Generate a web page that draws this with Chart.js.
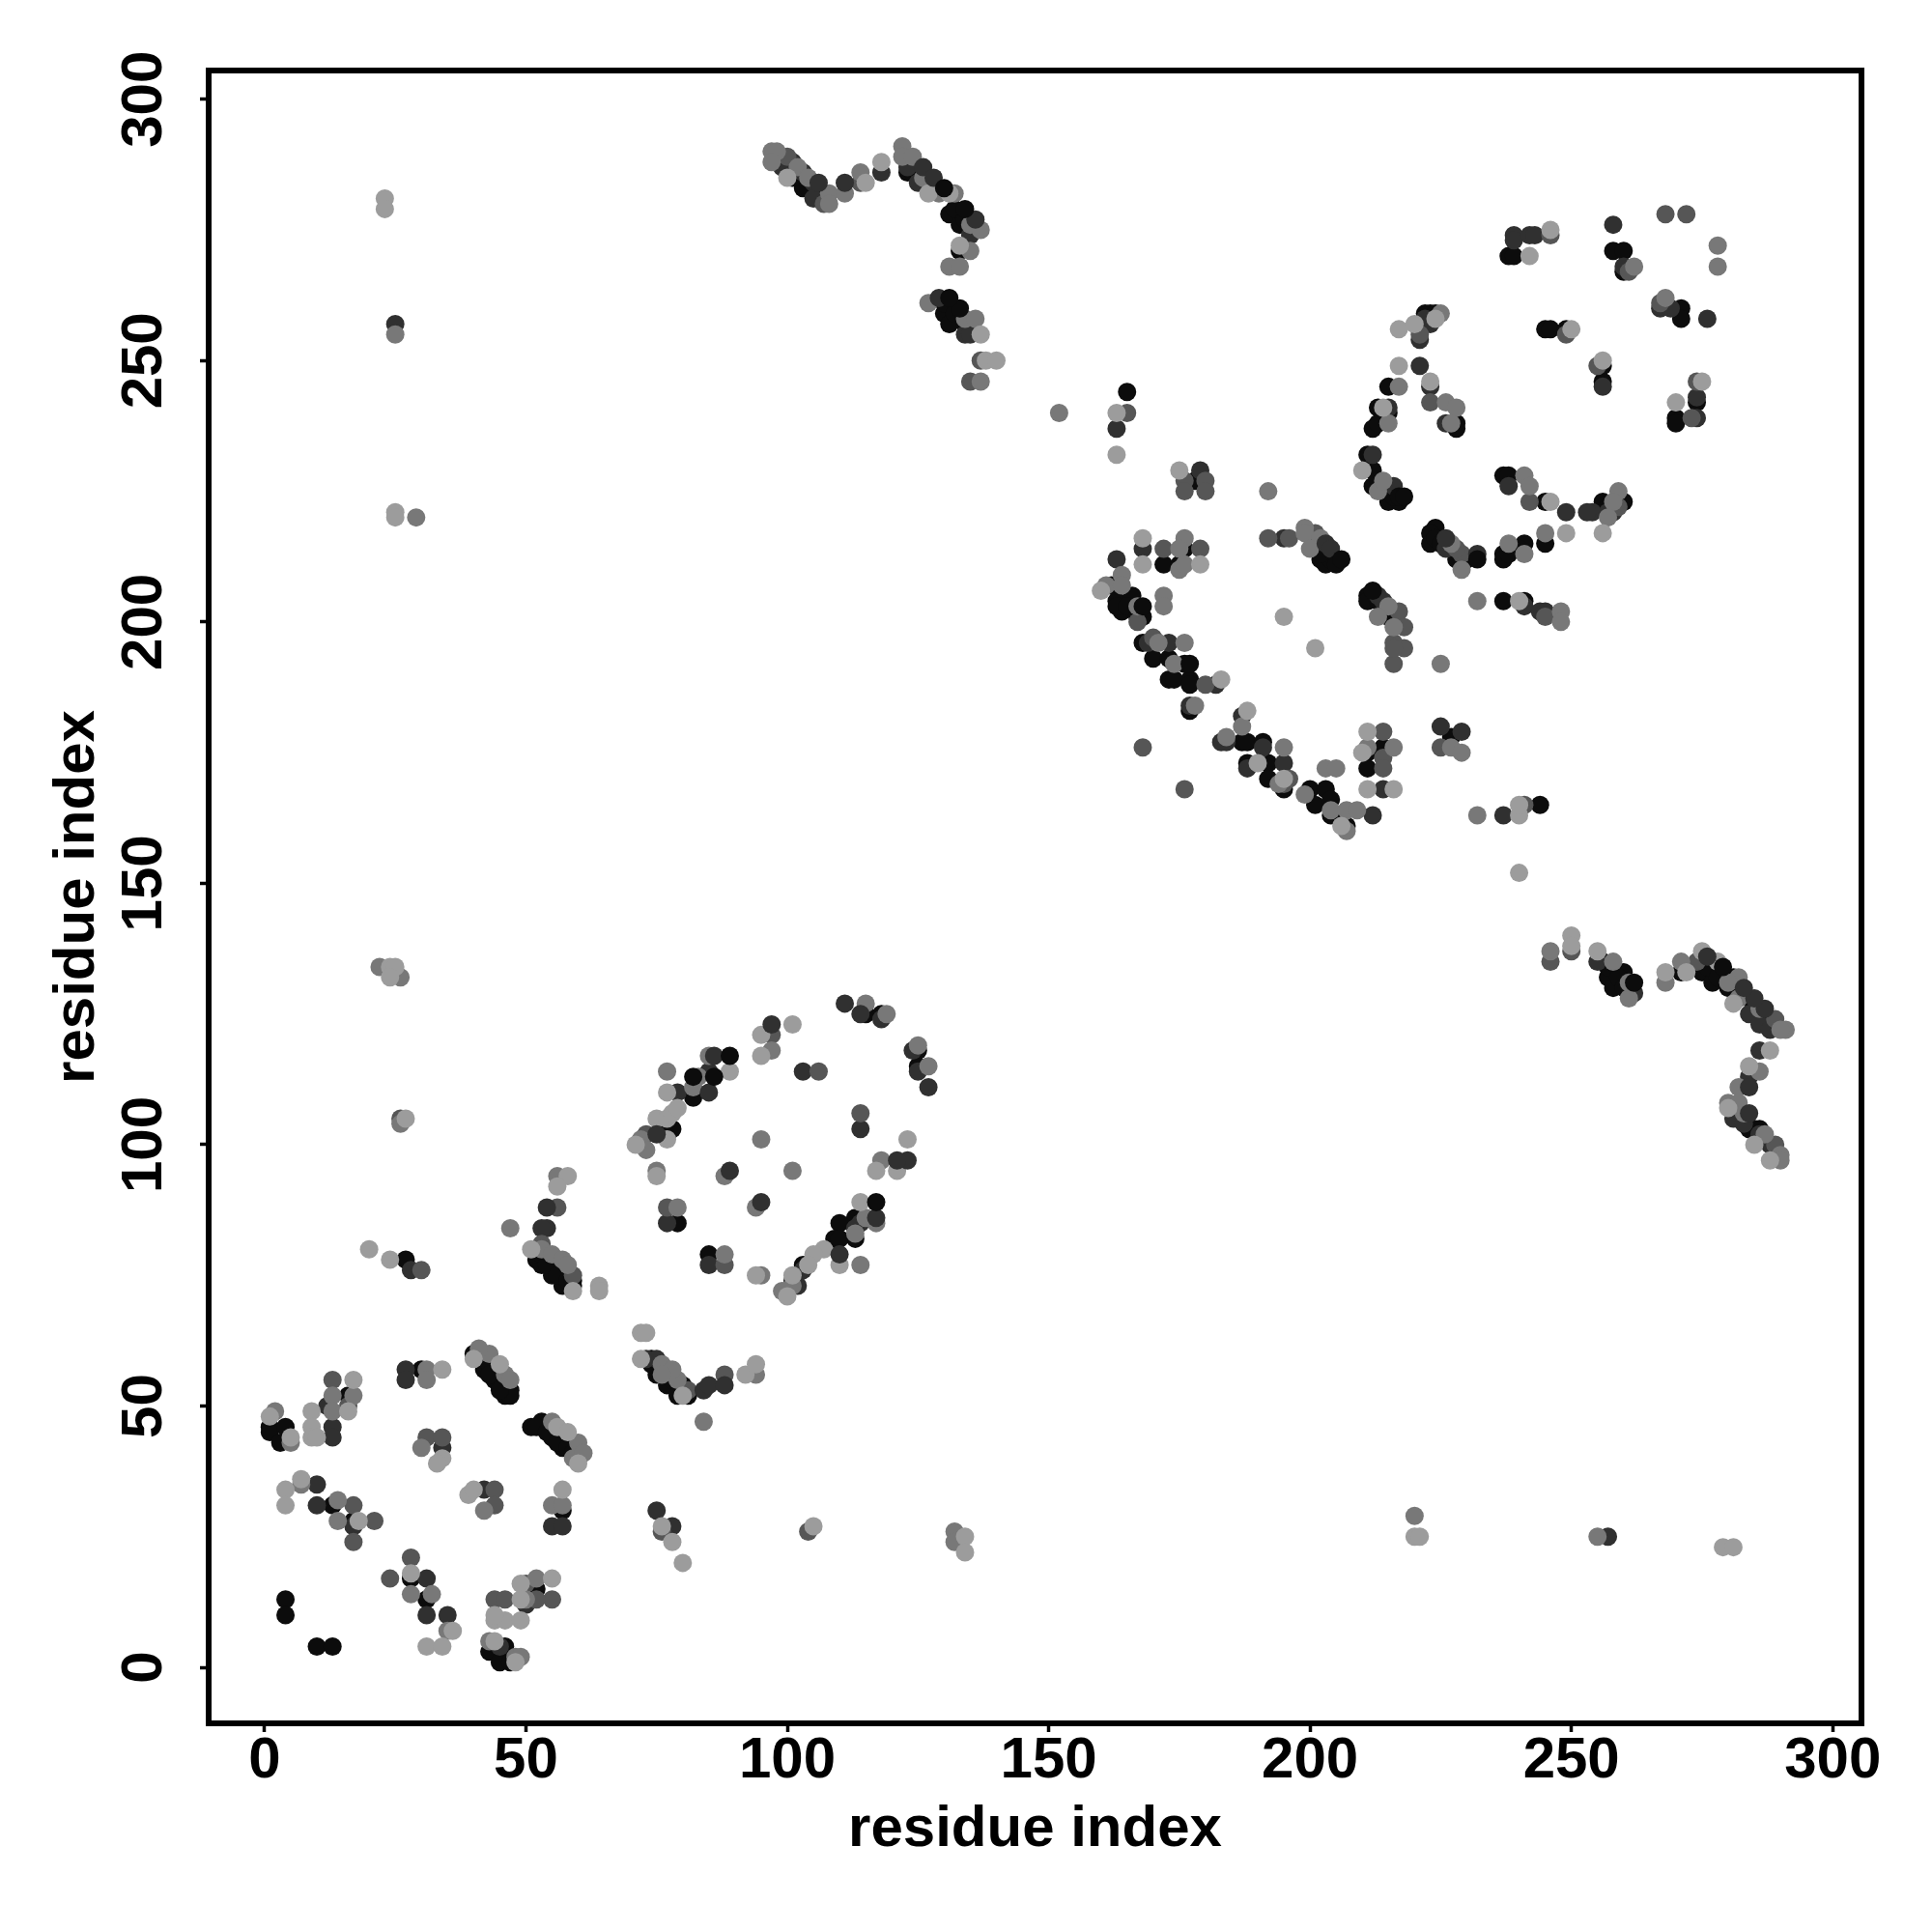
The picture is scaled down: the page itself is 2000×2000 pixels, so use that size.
<!DOCTYPE html>
<html><head><meta charset="utf-8">
<style>html,body{margin:0;padding:0;background:#fff}canvas{display:block}</style>
<script src="https://cdn.jsdelivr.net/npm/chart.js@4"></script>
</head><body><canvas id="c" width="2000" height="2000"></canvas>
<script>
const tickValues = [0,50,100,150,200,250,300];
const axisTitle = "residue index";
const lightPoints = [[31,4],[34,4],[36,7],[28,18],[4,34],[4,31],[7,36],[18,28],[1,48],[9,49],[9,46],[9,44],[10,44],[5,44],[17,55],[16,49],[34,57],[34,40],[33,39],[39,33],[40,34],[57,34],[40,59],[45,58],[56,46],[58,45],[60,39],[55,17],[49,16],[44,9],[46,9],[49,9],[44,10],[44,5],[49,13],[48,1],
[58,94],[56,92],[51,80],[59,72],[64,73],[64,72],[71,100],[77,101],[75,105],[77,105],[78,106],[79,107],[77,110],[89,114],[95,121],[101,123],[95,117],[123,101],[117,95],[121,95],[75,94],[94,75],[114,89],[107,80],[105,79],[104,77],[110,77],[101,75],[100,71],[72,64],[73,64],[72,59],[80,52],[92,56],[94,58],
[23,281],[23,279],[25,221],[25,220],[24,134],[25,134],[24,132],[27,105],[20,80],[24,78],[76,27],[78,24],[80,20],[105,27],[134,25],[134,22],[220,25],[221,25],[279,23],[281,23],
[175,229],[210,229],[168,216],[168,211],[179,211],[160,206],[188,183],[195,201],[201,195],[190,173],[195,170],[206,161],[211,179],[210,175],[211,168],[216,168],[240,163],[240,165],[240,152],[240,204],[246,223],[249,217],[183,189],
[242,270],[246,275],[270,242],[275,246],[256,250],[250,256],[217,256],[220,257],[224,258],[217,249],[223,246],[214,241],[256,217],
[100,285],[115,284],[118,288],[127,282],[131,282],[133,272],[137,255],[138,250],[140,250],[163,240],[163,232],
[250,140],[250,138],[255,137],[268,133],[272,133],[275,137],[278,135],[281,127],[288,118],[284,115],[280,107],[285,100],[288,97]];
const midPoints = [[32,14],[28,14],[35,7],[30,42],[55,31],[57,31],[42,30],[14,32],[14,28],[7,35],[2,49],[13,52],[13,49],[17,52],[31,57],[31,55],[5,43],[43,60],[41,61],[46,56],[47,55],[55,47],[60,43],[59,40],[61,41],[52,17],[50,13],[43,5],[48,2],[49,2],
[47,84],[56,94],[53,80],[55,79],[57,78],[58,77],[72,101],[73,99],[75,95],[77,114],[83,113],[85,117],[82,111],[97,118],[115,127],[119,125],[125,119],[127,115],[118,97],[79,88],[95,101],[101,95],[94,88],[88,94],[88,79],[95,75],[117,85],[115,86],[113,83],[114,77],[99,72],[101,73],[76,58],[79,55],[78,57],[94,56],[76,56],[84,47],[22,134],[26,132],[26,104],[25,255],[132,26],[132,24],[220,29],[255,25],[29,220],
[192,225],[199,218],[199,217],[202,216],[200,214],[227,215],[229,210],[213,225],[214,227],[164,209],[161,207],[164,207],[167,203],[172,205],[172,203],[171,196],[176,196],[174,192],[178,184],[184,178],[187,180],[195,176],[194,169],[199,167],[204,164],[207,164],[209,164],[207,160],[203,172],[205,172],[211,176],[216,176],[227,176],[229,175],[232,163],[225,192],[232,204],[248,202],[248,200],[215,203],[213,201],[216,199],[175,210],[176,216],[175,214],[176,211],[238,215],[241,228],[242,226],[245,217],[241,213],
[278,272],[278,268],[262,268],[268,262],[225,259],[217,245],[226,242],[228,241],[227,238],[215,238],[259,225],[258,223],[257,220],
[97,290],[98,290],[97,288],[102,287],[104,285],[108,282],[108,280],[111,282],[114,286],[122,291],[122,289],[124,289],[126,285],[129,282],[132,282],[135,276],[137,275],[135,271],[131,268],[133,268],[127,261],[134,258],[136,258],[137,246],[152,240],
[246,137],[258,135],[261,128],[261,131],[268,131],[271,135],[282,132],[280,131],[282,128],[286,126],[291,122],[290,122],[286,114],[282,111],[280,108],[282,108],[283,106],[287,102],[290,98],[290,97]];
const darkMidPoints = [[28,21],[24,17],[17,24],[21,28],[17,31],[13,55],[16,50],[31,44],[34,44],[44,34],[44,31],[44,13],[46,13],[55,13],[52,13],[50,16],[53,81],[56,88],[97,121],[114,106],[106,114],[77,88],[88,77],[73,102],[81,53],[88,56],[59,75],[26,105],[30,76],[104,26],[76,26],
[192,216],[196,216],[201,217],[180,227],[176,227],[176,225],[180,225],[172,214],[179,214],[229,213],[228,214],[167,200],[170,197],[180,188],[168,176],[176,168],[196,170],[195,169],[214,179],[214,174],[214,172],[225,176],[241,165],[245,201],[217,202],[218,199],[216,196],[218,195],[216,192],[216,195],
[268,278],[272,278],[261,267],[267,261],[246,274],[274,246],[273,239],[255,249],[249,255],[221,255],[223,242],[259,222],[242,223],[100,289],[107,280],[114,284],[137,250],[135,246],[165,240],[246,135],[250,137],[274,135],[289,124],[289,100]];
const darkPoints = [[35,10],[31,10],[31,17],[10,35],[10,31],[17,27],[13,46],[13,44],[12,50],[27,57],[27,55],[34,42],[42,34],[55,27],[57,27],[50,12],[45,4],
[54,84],[53,84],[79,110],[85,114],[103,114],[111,127],[118,124],[124,118],[125,114],[127,111],[114,103],[77,85],[85,77],[114,85],[113,84],[103,76],[101,74],[102,73],[73,59],[75,59],[75,30],[78,27],[25,257],[28,76],
[179,229],[195,216],[226,214],[238,226],[249,221],[216,226],[168,214],[163,212],[169,196],[173,196],[182,188],[177,184],[183,177],[184,177],[187,182],[191,176],[188,172],[195,173],[212,163],[214,168],[225,180],[237,163],[241,203],[244,202],[245,202],[213,205],[214,204],
[258,276],[260,268],[239,274],[239,273],[242,274],[243,274],[267,260],[269,260],[276,258],[274,243],[274,239],[256,245],[223,257],[222,258],[221,254],[221,249],[223,245],[215,241],[226,238],[212,232],[254,221],[253,221],[257,221],[258,221],
[99,287],[101,288],[103,286],[105,284],[105,281],[118,286],[123,287],[125,284],[135,274],[134,255],[135,255],[163,237],[257,25],
[255,135],[262,129],[284,125],[286,123],[288,122],[286,118],[284,113],[281,105],[283,104],[288,100],[286,102]];
const blackPoints = [[4,13],[4,10],[10,4],[13,4],[31,13],[28,17],[13,31],[17,28],[1,46],[1,45],[4,46],[3,43],[16,52],[30,57],[57,30],[40,60],[42,59],[42,57],[44,55],[46,52],[47,53],[51,46],[53,47],[55,45],[57,42],[55,44],[52,15],[43,3],[46,4],[45,1],[47,1],
[52,78],[53,77],[55,75],[57,73],[59,73],[56,76],[77,103],[82,109],[115,125],[118,125],[125,118],[125,115],[79,85],[85,79],[113,86],[110,85],[109,82],[113,82],[110,82],[103,77],[74,59],[75,56],[77,54],[79,52],
[224,218],[223,217],[223,215],[229,211],[237,213],[237,212],[241,215],[245,215],[237,228],[238,228],[245,223],[212,229],[212,226],[215,223],[217,223],[202,212],[203,211],[172,211],[176,214],[175,211],[162,207],[163,204],[166,205],[164,202],[168,201],[168,196],[170,193],[173,193],[176,192],[173,189],[174,189],[177,189],[177,188],[177,183],[178,227],[187,177],[188,177],[191,177],[188,173],[192,173],[192,170],[195,168],[200,168],[203,168],[201,165],[204,166],[204,163],[207,161],[211,175],[214,176],[211,172],[227,178],[244,165],[237,204],[241,204],[211,205],[211,204],[215,201],
[258,271],[260,271],[260,267],[238,270],[239,270],[271,260],[271,258],[274,242],[270,239],[270,238],[256,249],[256,246],[245,256],[246,256],[249,256],[223,259],[222,259],[224,259],[215,245],[215,240],[213,241],[212,237],[213,238],[228,238],[228,237],[211,232],[259,223],[256,223],
[27,78],[103,283],[106,283],[101,285],[123,286],[131,278],[133,276],[133,271],[130,259],[131,257],[165,244],
[256,135],[257,132],[260,133],[258,130],[271,133],[275,133],[277,131],[281,132],[284,103],[286,103],
[43,58],[44,56],[45,54],[46,54],[47,52],[45,53],[43,56],[52,46],[54,45],[56,43],[58,42],[59,41],[60,41],[60,40],[52,79],[53,79],[54,77],[56,75],[58,74],[59,74],[76,104],[78,103],[74,58],[76,57],[78,55],[80,54],[81,52],
[100,287],[102,286],[104,283],[107,282],[124,286],[125,286],[127,284],[129,283],[132,279],[134,277],[130,261],[132,259],[134,257],[257,134],[259,132],[261,130],[260,130],[276,134],[278,132],[280,130],[282,129],[284,128],[285,126],[286,124],[287,123],[281,107],[282,106],[283,105],[285,103],[287,101],
[163,203],[165,203],[167,201],[224,216],[225,215],[227,214],[228,212],[230,212],[213,204],[214,203],[215,202],[216,200],[201,214],[203,213],[204,212],[202,213],[214,226],[215,225],[216,224],[213,227],[205,163],[206,162],[240,214],[238,213],[257,222],[258,222],[260,223]];
const overDarkPoints = [[97,123],[89,95],[95,89],[86,117],[123,97],[121,97],[229,179],[276,136],[126,287],[128,285],[106,284],[111,284],[129,262],[203,215],[204,214],[226,216],[232,213],[284,106],[287,126],[285,128],[283,130],[284,111],[117,86],[114,125],[110,79],[85,110],[54,88],[75,102],[84,53],[85,54],[88,54],[136,277]];
const overBlackPoints = [[212,206],[217,224],[218,224],[205,211],[206,212],[168,203],[177,192],[232,212],[279,134],[262,131],[134,279],[130,283],[133,260],[131,262],[117,89],[86,113],[89,117],[82,113]];

const toXY = pts => pts.map(p => ({x:p[0], y:p[1]}));
const series = (pts, colour) => ({data:toXY(pts), pointRadius:9.5, pointBorderWidth:0, pointBackgroundColor:colour, showLine:false});
const font = {family:'"Liberation Sans"', weight:'bold', size:60};
const frame = {id:'frame', afterDatasetsDraw(c){const a=c.chartArea,x=c.ctx;x.save();x.strokeStyle='#000';x.lineWidth=6;x.strokeRect(a.left,a.top,a.right-a.left,a.bottom-a.top);x.restore();}};
const fixTicks = s => { s.ticks = tickValues.map(v => ({value:v})); };
const axisBase = {
  type:'linear', min:-10.7, max:305.5, afterBuildTicks:fixTicks,
  grid:{display:true, drawOnChartArea:false, drawTicks:true, tickLength:9, tickWidth:3.5, tickColor:'#000'},
  border:{display:false}
};
new Chart(document.getElementById('c'), {
  type:'scatter',
  data:{datasets:[series(overBlackPoints,'#0c0c0c'),series(overDarkPoints,'#303030'),series(lightPoints,'#9c9c9c'),series(midPoints,'#787878'),series(darkMidPoints,'#565656'),series(darkPoints,'#303030'),series(blackPoints,'#0c0c0c')]},
  plugins:[frame],
  options:{
    responsive:false, animation:false, devicePixelRatio:1,
    layout:{padding:{top:73,right:73,bottom:0,left:0}},
    plugins:{legend:{display:false},tooltip:{enabled:false},title:{display:false}},
    scales:{
      x:{...axisBase, position:'bottom', afterFit(s){s.height=216;},
        ticks:{color:'#000',font,padding:-6,maxRotation:0,minRotation:0,autoSkip:false,callback:v=>String(v)},
        title:{display:true,text:axisTitle,color:'#000',font,padding:{top:0,bottom:69.5}}},
      y:{...axisBase, position:'left', afterFit(s){s.width=216;},
        ticks:{color:'#000',font,padding:6.5,minRotation:90,maxRotation:90,crossAlign:'center',autoSkip:false,callback:v=>String(v)},
        title:{display:true,text:axisTitle,color:'#000',font,padding:{top:44,bottom:0}}}
    }
  }
});
</script></body></html>
